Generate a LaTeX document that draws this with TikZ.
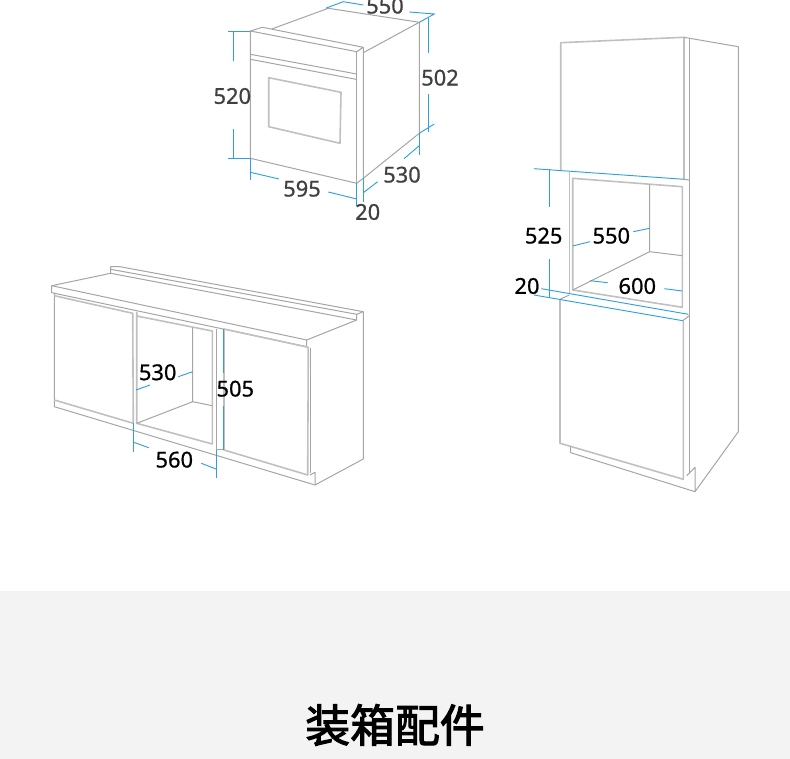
\documentclass[tikz,border=0pt]{standalone}
\usepackage{fontspec}
\setmainfont{Noto Sans}
\newfontfamily\dimfont{Noto Sans}[FakeBold=0.8]
\newfontfamily\cjkfont{Noto Sans CJK SC}[FakeBold=2.4]
\usepackage{tikz}
\definecolor{myblue}{RGB}{46,160,224}
\definecolor{mygray}{RGB}{165,165,165}
\definecolor{myband}{RGB}{243,243,243}
\definecolor{mytext}{RGB}{64,64,64}

\begin{document}
\begin{tikzpicture}[x=0.75pt,y=-0.75pt,
outline/.style={draw=mygray,line width=0.75pt,line join=round},
thick outline/.style={draw=mygray!70,line width=1.2pt,line join=round},
dim/.style={draw=myblue,line width=0.7pt},
label/.style={font=\dimfont\fontsize{16.4}{18}\selectfont,inner sep=0pt,text=black},
oven label/.style={label,text=mytext}]

\useasboundingbox (0,0) rectangle (790,759);

% band
\fill[myband] (0,591) rectangle (790,759);
\node[font=\cjkfont\fontsize{33.6}{38}\selectfont,inner sep=0pt](title) at (395,725){装箱配件};

% oven
\draw[outline] (250.3,31) -- (262.3,27.3) -- (363.3,47.3) -- (356.7,51.7) -- cycle;
\draw[outline] (250.3,31) -- (250.3,158.3) -- (356.7,183.3) -- (363.3,178.3) -- (363.3,47.3);
\draw[outline] (356.7,51.7) -- (356.7,183.3);
\draw[outline] (271.7,29) -- (328.3,8.3) -- (419.3,22.3) -- (363.3,52.7);
\draw[outline] (419.3,22.3) -- (419.3,133.3) -- (363.3,178.3);
\draw[outline] (250.3,54.3) -- (356.7,74);
\draw[outline] (250.3,59.3) -- (356,79.3);
\draw[thick outline] (268.7,77.7) -- (341,92.3) -- (340,143.3) -- (268.7,126.7) -- cycle;

% oven dimensions
\draw[dim] (325.7,8.3) -- (343.3,1.7) -- (363.3,5);
\draw[dim] (409.3,12) -- (434.3,14) -- (419.3,22.3);
\draw[dim] (428.3,18) -- (428.3,52.7);
\draw[dim] (428.3,94) -- (428.3,131.7);
\draw[dim] (434.3,124) -- (419.3,133.3);
\draw[dim] (228.3,31) -- (250.3,31);
\draw[dim] (233.3,31) -- (233.3,60.7);
\draw[dim] (233.3,129.3) -- (233.3,158.3);
\draw[dim] (228.3,158.3) -- (250.3,158.3);
\draw[dim] (250.3,158.3) -- (250.3,180.3);
\draw[dim] (250.3,172.3) -- (279,179);
\draw[dim] (328.3,192) -- (356.7,199);
\draw[dim] (356.7,183.3) -- (356.7,206);
\draw[dim] (363.3,178.3) -- (363.3,201.7);
\draw[dim] (363.3,192.7) -- (377.7,181.7);
\draw[dim] (404,158.7) -- (419.3,145.7);
\draw[dim] (419.3,133.3) -- (419.3,155);

\node[oven label](w550) at (385,5.7){550};
\node[oven label](h502) at (440,77.7){502};
\node[oven label](h520) at (232.3,96){520};
\node[oven label](w595) at (302,188.7){595};
\node[oven label](d530) at (402,174.7){530};
\node[oven label](g20) at (367.7,212){20};

% counter
\draw[outline] (51.7,285.7) -- (110.7,273.3) -- (110.7,266.7) -- (120,266.7) -- (363.3,311.7) -- (356.7,314.3);
\draw[outline] (110.7,269.3) -- (356.7,314.3) -- (356.7,320) -- (110.7,273.3);
\draw[outline] (51.7,285.7) -- (51.7,292.7) -- (306.7,346.7) -- (306.7,340) -- cycle;
\draw[outline] (306.7,340) -- (356.7,320);
\draw[outline] (363.3,311.7) -- (363.3,459) -- (315,485) -- (315,472.3) -- (310,475);
\draw[outline] (54.3,292.7) -- (54.3,406.7) -- (315,485);
\draw[thick outline] (54.3,295.7) -- (132.7,313.3) -- (133.3,423.3) -- (54.3,400);
\draw[thick outline] (136.7,312) -- (136.7,423.3) -- (212.3,444) -- (212.3,331) -- (136.7,316);
\draw[outline] (192.7,327.3) -- (192.7,401.7) -- (136.7,423.3);
\draw[outline] (192.7,401.7) -- (212.3,405.7);
\draw[outline] (216,329) -- (216,450) -- (224,450);
\draw[thick outline] (224,329) -- (308.3,347.3) -- (307.7,475) -- (224,450) -- cycle;
\draw[outline] (310.7,347.7) -- (310.7,473.3);

% counter dimensions
\draw[dim] (223.3,329) -- (223.3,373.3);
\draw[dim] (223.3,405.7) -- (223.3,450);
\draw[dim] (136,390) -- (150,385);
\draw[dim] (178.3,376.7) -- (192.7,371.7);
\draw[dim] (133.7,423.3) -- (133.7,451.7);
\draw[dim] (133.7,442.3) -- (148.7,447.7);
\draw[dim] (201.3,463.3) -- (216,469);
\draw[dim] (216,450) -- (216,478.3);

\node[label](c530) at (157.7,372.3){530};
\node[label](c505) at (235.3,388.7){505};
\node[label](c560) at (174.3,459.7){560};

% tall unit
\draw[thick outline] (684,179.3) -- (684,37.3) -- (560.7,42.7) -- (560.7,170);
\draw[outline] (684,37.3) -- (738.3,46.7) -- (738.3,431.7) -- (695,491.7) -- (695,467.3) -- (686.7,475.7);
\draw[outline] (689.3,39) -- (689.3,473.3);
\draw[thick outline] (569.3,171.7) -- (569.3,293.3);
\draw[outline] (684,179.3) -- (689.3,180);
\draw[thick outline] (572.7,178.3) -- (682.3,186.7) -- (682.3,307.3) -- (572.7,290) -- cycle;
\draw[outline] (649.7,184.3) -- (649.7,251.7) -- (572.7,290);
\draw[outline] (649.7,251.7) -- (682.3,255.7);
\draw[outline] (569.3,295) -- (560,299.3);
\draw[thick outline] (560,299.3) -- (560,443.3) -- (683.3,479.3) -- (683.3,320.7);
\draw[outline] (682.7,320.7) -- (689.3,315.7);
\draw[outline] (570.7,446.7) -- (570.7,452.7) -- (695,491.7);

% tall unit dimensions
\draw[dim] (534,168.7) -- (684,179.3);
\draw[dim] (534,295) -- (682.7,320.7);
\draw[dim] (541.3,288.7) -- (688.3,314.3);
\draw[dim] (549.3,169.3) -- (549.3,207.3);
\draw[dim] (549.3,259.3) -- (549.3,297.7);
\draw[dim] (572.7,246) -- (590,241.7);
\draw[dim] (633.3,231.7) -- (649.7,228.3);
\draw[dim] (590,280.7) -- (607.7,282.7);
\draw[dim] (664.3,288.7) -- (682.3,291);

\node[label](t525) at (543.7,235.7){525};
\node[label](t550) at (611.3,235.7){550};
\node[label](t20) at (527,286){20};
\node[label](t600) at (637.3,286){600};
\end{tikzpicture}
\end{document}
